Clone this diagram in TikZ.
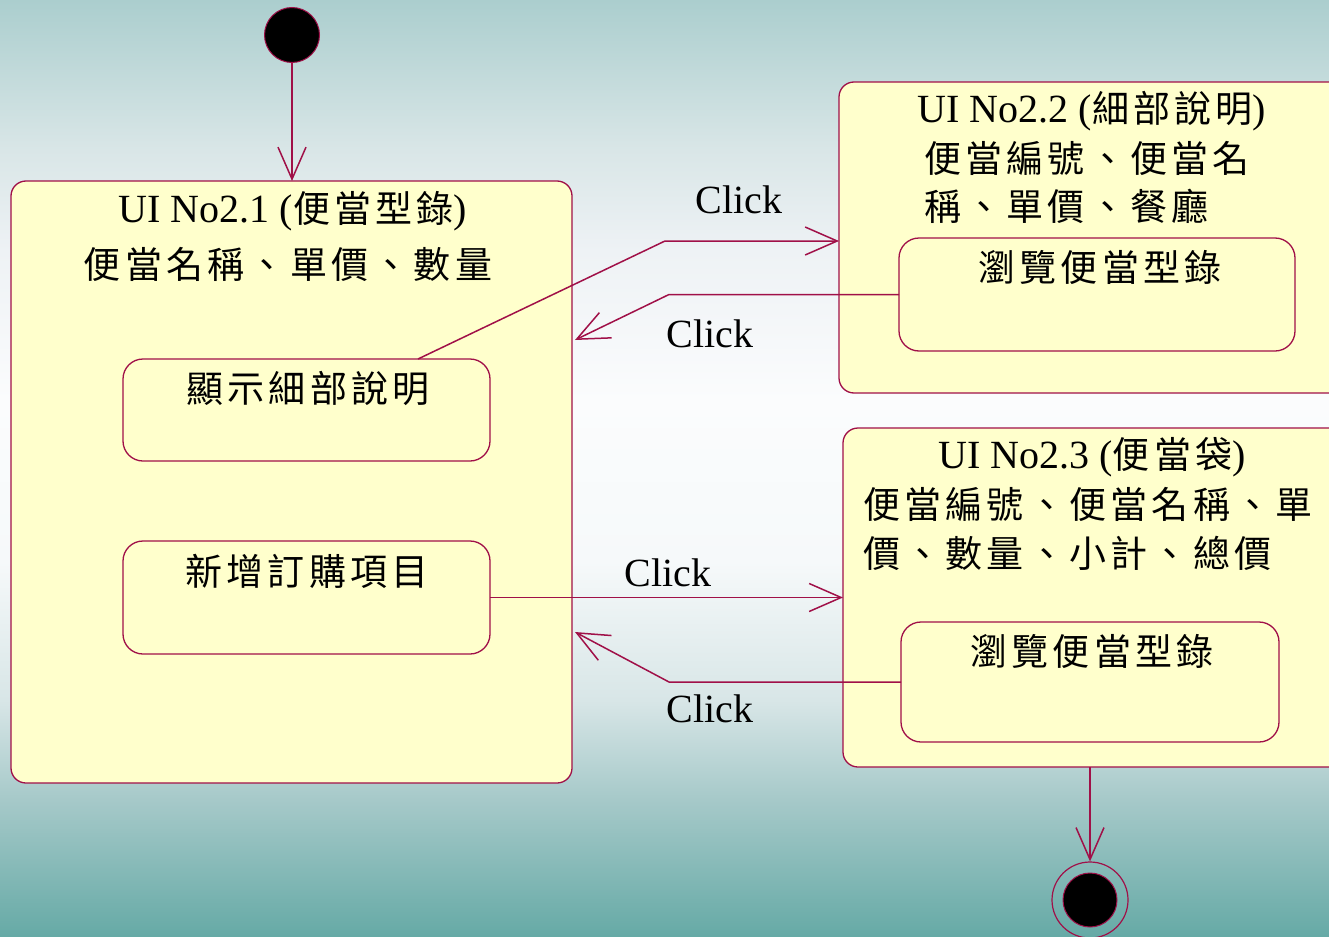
\documentclass[tikz,border=0pt]{standalone}
\usepackage{fontspec}
\setmainfont{Liberation Serif}
\newfontfamily\cjkfam[LetterSpace=11.5]{Noto Sans CJK TC}
\usetikzlibrary{arrows.meta}
\definecolor{umlred}{RGB}{160,16,72}
\definecolor{boxyellow}{RGB}{255,255,204}
\definecolor{bgA}{HTML}{66AAA6}
\definecolor{bgB}{HTML}{A6C9C9}
\definecolor{bgC}{HTML}{D8E6E7}
\definecolor{bgD}{HTML}{F6F9FA}
\definecolor{bgE}{HTML}{FBFCFD}
\definecolor{bgF}{HTML}{EEF2F5}
\definecolor{bgG}{HTML}{D9E6E7}
\definecolor{bgH}{HTML}{ABCECE}
\pgfdeclareverticalshading{bgshade}{100bp}{color(0bp)=(bgA); color(25bp)=(bgA); color(32.3bp)=(bgB); color(37.6bp)=(bgC); color(45bp)=(bgD); color(53.6bp)=(bgE); color(61.6bp)=(bgF); color(67bp)=(bgG); color(75bp)=(bgH); color(100bp)=(bgH)}
\newcommand\latsize{\fontsize{40}{46}\selectfont}
\newcommand\zhtext[1]{{\fontsize{37}{44}\selectfont\cjkfam #1}}
\begin{document}
\begin{tikzpicture}[x=1pt,y=-1pt,
  state/.style={draw=umlred, line width=1.3pt, fill=boxyellow, rounded corners=15pt, inner sep=0pt, outer sep=0pt, anchor=north west},
  substate/.style={state, rounded corners=20pt},
  lbl/.style={anchor=base, inner sep=0pt, text=black},
  lblw/.style={anchor=base west, inner sep=0pt, text=black},
  clk/.style={anchor=base, inner sep=0pt, font=\fontsize{40}{46}\selectfont},
  trans/.style={draw=umlred, line width=1.5pt, -{Straight Barb[length=32pt,width=28pt]}},
  initstate/.style={circle, fill=black, draw=umlred, line width=1pt, inner sep=0pt}
]
\useasboundingbox (0,0) rectangle (1329,936);
\shade[shading=bgshade] (0,0) rectangle (1329,936);
\clip (0,0) rectangle (1329,936);

% states
\node[state, minimum width=561pt, minimum height=602pt] (s1) at (11,181) {};
\node[state, minimum width=506pt, minimum height=311pt] (s2) at (839,82) {};
\node[state, minimum width=502pt, minimum height=339pt] (s3) at (843,428) {};
\node[substate, minimum width=367pt, minimum height=102pt] (i1) at (123,359) {};
\node[substate, minimum width=367pt, minimum height=113pt] (i2) at (123,541) {};
\node[substate, minimum width=396pt, minimum height=113pt] (i3) at (899,238) {};
\node[substate, minimum width=378pt, minimum height=120pt] (i4) at (901,622) {};

% texts
\node[lbl] (t1) at (293,222) {\latsize UI No2.1 (\zhtext{便當型錄})};
\node[lbl] (t1b) at (288,278) {\zhtext{便當名稱、單價、數量}};
\node[lbl] (t2) at (1092,123) {\latsize UI No2.2 (\zhtext{細部說明})};
\node[lblw] (t2b) at (924,172) {\zhtext{便當編號、便當名}};
\node[lblw] (t2c) at (924,220) {\zhtext{稱、單價、餐廳}};
\node[lbl] (t3) at (1092,468) {\latsize UI No2.3 (\zhtext{便當袋})};
\node[lblw] (t3b) at (863,518) {\zhtext{便當編號、便當名稱、單}};
\node[lblw] (t3c) at (863,567) {\zhtext{價、數量、小計、總價}};
\node[lbl] (ti1) at (308,402) {\zhtext{顯示細部說明}};
\node[lbl] (ti2) at (307,585) {\zhtext{新增訂購項目}};
\node[lbl] (ti3) at (1100,281) {\zhtext{瀏覽便當型錄}};
\node[lbl] (ti4) at (1092,665) {\zhtext{瀏覽便當型錄}};

% initial and final
\node[initstate, minimum size=55pt] (init) at (292,35) {};
\node[circle, draw=umlred, line width=1.2pt, minimum size=76pt, inner sep=0pt] (fin) at (1090,900) {};
\node[initstate, minimum size=54pt] (finin) at (fin) {};

% transitions
\draw[trans] (init) -- (init |- s1.north);
\coordinate (b1) at (665,241);
\draw[trans] ([xshift=295pt]i1.north west) -- (b1) -- (b1 -| s2.west);
\coordinate (b2) at (669,294);
\coordinate (e2) at (575,340);
\draw[trans] (i3.west) -- (i3.west -| b2) -- (e2);
\draw[trans] (i2.east) -- (i2.east -| s3.west);
\coordinate (b4) at (669,683);
\coordinate (e4) at (575,632);
\draw[trans] (i4.west) -- (i4.west -| b4) -- (e4);
\draw[trans] (fin |- s3.south) -- (fin);

% labels
\node[clk] (c1) at (739,213) {Click};
\node[clk] (c2) at (710,347) {Click};
\node[clk] (c3) at (668,586) {Click};
\node[clk] (c4) at (710,722) {Click};
\end{tikzpicture}
\end{document}
